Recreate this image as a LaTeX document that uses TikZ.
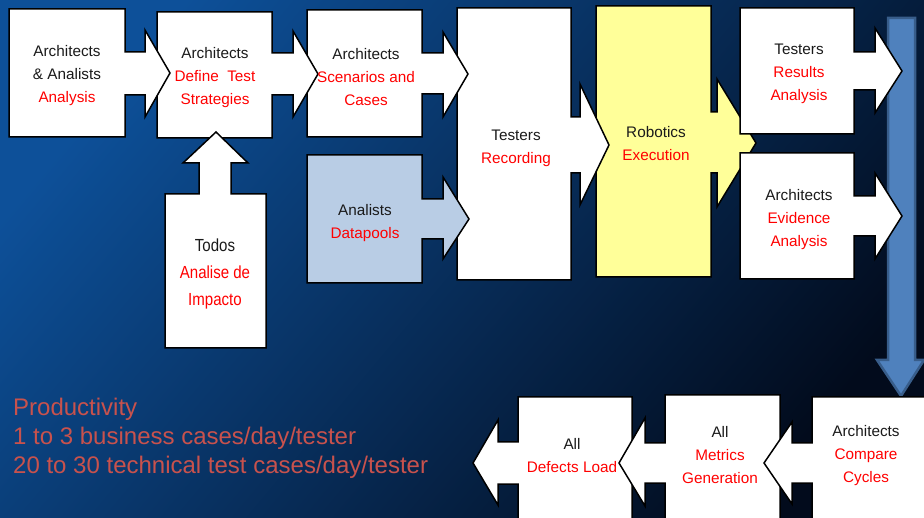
\documentclass[tikz,border=0pt]{standalone}
\usepackage{fontspec}
\setmainfont{Liberation Sans}
\newfontfamily\narrowf[FakeStretch=0.86]{Liberation Sans}
\definecolor{bgA}{HTML}{0D5099}
\definecolor{bgB}{HTML}{020B1C}
\definecolor{yel}{HTML}{FFFF99}
\definecolor{lblue}{HTML}{B9CDE5}
\definecolor{barfill}{HTML}{4F81BD}
\definecolor{barline}{HTML}{385D8A}
\definecolor{prod}{HTML}{C8524D}
\definecolor{txtred}{HTML}{FF0000}
\definecolor{txtblk}{HTML}{1A1A1A}
\newcommand\redt[1]{\textcolor{txtred}{#1}}
\begin{document}
\begin{tikzpicture}[x=1pt,y=-1pt,
  shapebox/.style={draw=black,line width=1.5pt,line join=miter,fill=white},
  txt/.style={align=center,text=txtblk,inner sep=0pt,font=\fontsize{15.3}{23}\selectfont},
  ntxt/.style={align=center,text=txtblk,inner sep=0pt,font=\narrowf\fontsize{17.5}{27}\selectfont},
  ptxt/.style={align=left,text=prod,inner sep=0pt,anchor=west,font=\fontsize{24}{29}\selectfont}]
\useasboundingbox (0,0) rectangle (924,518);
\clip (0,0) rectangle (924,518);
\shade[top color=bgA,bottom color=bgB,shading angle=50] (-10,-10) rectangle (934,528);
% blue down arrow
\draw[draw=barline,fill=barfill,line width=2.5pt,line join=miter]
  (888,18) -- (915,18) -- (915,360) -- (924,360) -- (901,396) -- (877,360) -- (888,360) -- cycle;
% Robotics (yellow)
\draw[shapebox,fill=yel] (596,6) -- (711,6) -- (711,112) -- (717,112) -- (717,79) -- (756,143) -- (717,207) -- (717,173) -- (711,173) -- (711,277) -- (596,277) -- cycle;
% Results analysis
\draw[shapebox] (740,8) -- (854,8) -- (854,52) -- (875,52) -- (875,28) -- (902,71) -- (875,113) -- (875,90) -- (854,90) -- (854,134) -- (740,134) -- cycle;
% Evidence analysis
\draw[shapebox] (740,153) -- (854,153) -- (854,196) -- (875,196) -- (875,173) -- (902,216) -- (875,259) -- (875,236) -- (854,236) -- (854,279) -- (740,279) -- cycle;
% Recording
\draw[shapebox] (457,8) -- (571,8) -- (571,117) -- (580,117) -- (580,84) -- (609,145) -- (580,205) -- (580,173) -- (571,173) -- (571,280) -- (457,280) -- cycle;
% Datapools
\draw[shapebox,fill=lblue] (307,155) -- (422,155) -- (422,199) -- (443,199) -- (443,177) -- (469,219) -- (443,259) -- (443,239) -- (422,239) -- (422,283) -- (307,283) -- cycle;
% Scenarios
\draw[shapebox] (307,10) -- (422,10) -- (422,53) -- (443,53) -- (443,32) -- (468,74) -- (443,117) -- (443,94) -- (422,94) -- (422,137) -- (307,137) -- cycle;
% Define test strategies
\draw[shapebox] (157,12) -- (272,12) -- (272,53) -- (293,53) -- (293,31) -- (318,74) -- (293,117) -- (293,95) -- (272,95) -- (272,138) -- (157,138) -- cycle;
% Analysis
\draw[shapebox] (9,9) -- (125,9) -- (125,52) -- (145,52) -- (145,30) -- (170,73) -- (145,117) -- (145,95) -- (125,95) -- (125,137) -- (9,137) -- cycle;
% Todos (up arrow)
\draw[shapebox] (165,348) -- (165,194) -- (199,194) -- (199,163) -- (183,163) -- (216,132) -- (248,163) -- (231,163) -- (231,194) -- (266,194) -- (266,348) -- cycle;
% bottom row
\draw[shapebox] (518,397) -- (632,397) -- (632,530) -- (518,530) -- (518,484) -- (498,484) -- (498,505) -- (473,463) -- (498,420) -- (498,442) -- (518,442) -- cycle;
\draw[shapebox] (665,395) -- (780,395) -- (780,530) -- (665,530) -- (665,483) -- (645,483) -- (645,506) -- (619,463) -- (645,418) -- (645,443) -- (665,443) -- cycle;
\draw[shapebox] (812,397) -- (930,397) -- (930,530) -- (812,530) -- (812,483) -- (792,483) -- (792,504) -- (764,463) -- (792,422) -- (792,443) -- (812,443) -- cycle;
% texts
\node[txt] (t1) at (67,76) {Architects\\\& Analists\\\redt{Analysis}};
\node[txt] (t2) at (215,78) {Architects\\\redt{Define\ \ Test}\\\redt{Strategies}};
\node[txt] (t3) at (366,77) {Architects\\\redt{Scenarios and}\\\redt{Cases}};
\node[txt] (t4) at (365,223) {Analists\\\redt{Datapools}};
\node[txt] (t5) at (516,148) {Testers\\\redt{Recording}};
\node[txt] (t6) at (656,144) {Robotics\\\redt{Execution}};
\node[txt] (t7) at (799,74) {Testers\\\redt{Results}\\\redt{Analysis}};
\node[txt] (t8) at (799,220) {Architects\\\redt{Evidence}\\\redt{Analysis}};
\node[ntxt] (t9) at (215,274) {Todos\\\redt{Analise de}\\\redt{Impacto}};
\node[txt] (t10) at (866,456) {Architects\\\redt{Compare}\\\redt{Cycles}};
\node[txt] (t11) at (720,455) {All\\\redt{Metrics}\\\redt{Generation}};
\node[txt] (t12) at (572,456) {All\\\redt{Defects Load}};
\node[ptxt] (prod) at (13,438) {Productivity\\1 to 3 business cases/day/tester\\20 to 30 technical test cases/day/tester};
\end{tikzpicture}
\end{document}
